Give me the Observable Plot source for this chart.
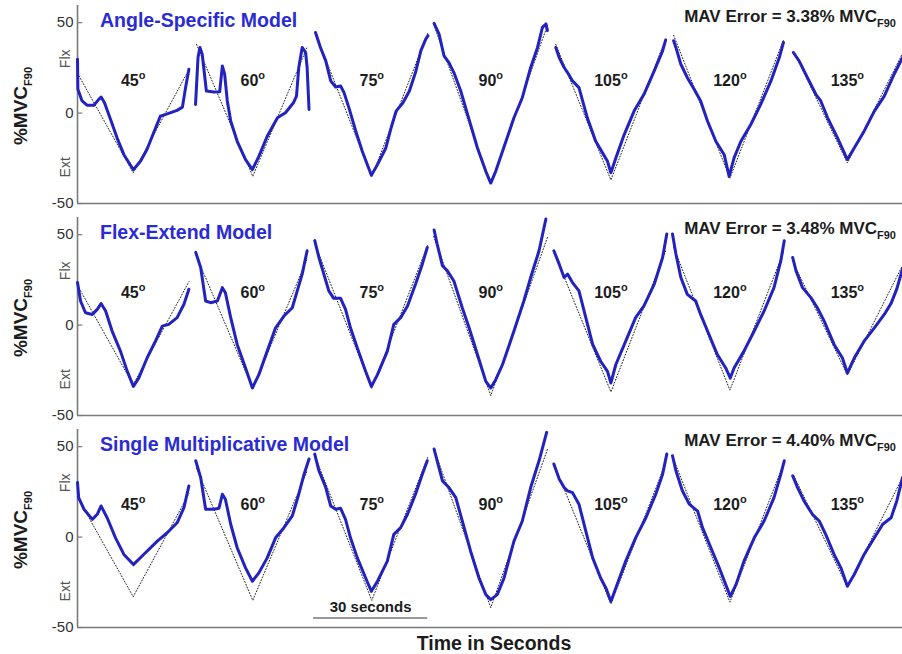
<!DOCTYPE html>
<html>
<head>
<meta charset="utf-8">
<script src="https://cdn.jsdelivr.net/npm/d3@7"></script>
<script src="https://cdn.jsdelivr.net/npm/@observablehq/plot@0.6"></script>
<style>
  html, body { margin: 0; padding: 0; background: #fff; }
  body { font-family: "Liberation Sans", Arial, Helvetica, sans-serif; }
  #chart { position: relative; width: 902px; height: 654px; overflow: hidden; }
  .panel { position: absolute; left: 0; width: 902px; height: 212px; }
  .panel svg { position: absolute; left: 0; top: 0; }
  .title { position: absolute; left: 100px; top: 9px; font-weight: bold; font-size: 19.5px; line-height: 22px; color: #2b2bd4; white-space: nowrap; }
  .mav { position: absolute; right: 6px; top: 6px; font-weight: bold; font-size: 17px; line-height: 22px; color: #1c1c1c; white-space: nowrap; }
  .mav sub, .ylab sub { font-size: 11px; vertical-align: -5px; line-height: 0; }
  .ylab { position: absolute; left: 21px; top: 106px; transform: translate(-50%, -50%) rotate(-90deg); font-weight: bold; font-size: 19px; line-height: 20px; color: #1c1c1c; white-space: nowrap; }
  .xlab { position: absolute; left: 0; top: 632px; width: 902px; padding-left: 86px; box-sizing: border-box; text-align: center; font-weight: bold; font-size: 19.5px; line-height: 22px; color: #1c1c1c; }
</style>
</head>
<body>
<div id="chart"></div>
<script>
// Joint angle of each 30-second tracking trial
const angles = [45, 60, 75, 90, 105, 120, 135];

// Target (dotted) triangle per trial: [time s, %MVC] at start, trough, end
const target = [
  [[0, 22], [14.65, -33], [29.3, 24]],
  [[31.3, 38], [46.1, -35], [60.3, 36]],
  [[62.6, 44], [77.4, -35], [92.1, 44]],
  [[93.7, 49], [108.7, -39], [123.7, 49]],
  [[125.8, 38], [140.3, -37], [154.7, 41]],
  [[156.8, 43], [171.6, -36], [185.8, 41]],
  [[188.4, 34], [202.5, -27.6], [217, 33]]
];

// Estimated torque, Angle-Specific Model
const angleSpecific = [
  [[0,29.8],[0.1,13.2],[1.2,6.7],[2.5,4.4],[4.3,4.3],[5.6,7.6],[6.2,8.9],[7.1,5.7],[8.7,-3.5],[10.4,-13.7],[12.2,-23],[14.7,-31.3],[16.6,-26.5],[18.3,-20],[20,-11],[21.8,-1.7],[23.6,-0.4],[26.2,1.5],[27.6,3.3],[28.4,13.7],[29.3,24.3]],
  [[31.05,4.8],[31.7,30.7],[32.2,36.3],[32.8,32.6],[33.4,21.5],[33.9,12.2],[35.9,11.7],[37.4,11.8],[38.1,26.1],[38.7,21.5],[39.4,6.7],[40.3,-4.4],[42,-15.6],[44.2,-25.7],[46,-31.3],[47.7,-23.9],[49.9,-12.8],[52.6,-2.6],[54.7,0.2],[56.8,5.7],[57.6,9.4],[58.2,25.2],[59.1,36.3],[60,33.5],[60.4,25.2],[60.9,2]],
  [[62.6,44.6],[63.9,36.3],[65.3,28.9],[66.6,17.8],[67.9,14.4],[69.2,15],[70.1,11.3],[71.4,2.9],[73.2,-10],[74.9,-21.1],[77.3,-34.4],[78.9,-28.5],[81.1,-19.3],[82.5,-8.1],[83.8,1.1],[85.6,5.7],[87.3,12.2],[88.9,22.4],[90.3,34.4],[91.6,40.9],[92.2,42.8]],
  [[93.8,49.6],[95.1,43.7],[96.4,31.7],[97.7,27.9],[99,22.4],[100.8,12.2],[102.6,-0.7],[105.2,-19.3],[107.4,-32.2],[108.7,-38.7],[110,-32.2],[111.8,-21.1],[114.8,-2.6],[117,8.5],[119.2,25.2],[121,36.3],[122.3,47.4],[123.2,49.3],[123.6,45.6]],
  [[125.8,36.3],[126.7,30.7],[128,25.2],[128.9,22.4],[130.2,17.8],[131.9,14.1],[134.1,-2.6],[136.3,-15.6],[138.1,-22],[139.4,-26.7],[140.3,-33],[141.6,-24.8],[143.8,-11.9],[146.4,1.1],[149,10.4],[151.7,23.3],[153.9,34.4],[154.7,40.4]],
  [[156.8,40],[157.4,36.3],[158.7,27],[160.4,19.6],[162.2,13.2],[163.9,6.7],[165.7,-4.4],[167.9,-15.6],[170.1,-23],[171.4,-35],[172.7,-24.8],[174.5,-15.6],[177.1,-6.3],[179.7,4.8],[182.4,17.8],[184.6,30.7],[185.7,39.1]],
  [[188.3,33.5],[189.8,28.9],[192,19.6],[194.2,10.4],[195.5,6.7],[197.3,-2.6],[199.9,-13.7],[202.5,-25.7],[204.3,-19.3],[206.9,-10],[209.6,1.1],[212.2,9.4],[214.8,21.5],[217,30.7]]
];

// Estimated torque, Flex-Extend Model
const flexExtend = [
  [[0,23.5],[0.8,13.3],[2.1,6.8],[3.9,5.9],[5.2,8.7],[6.2,11.9],[7.4,7.8],[9.1,-3.3],[11.3,-14.4],[13.1,-25.6],[14.7,-33.9],[16.1,-29.3],[18.3,-18.2],[20.5,-8.9],[22.3,-0.6],[24,0.4],[26.2,4.1],[28,11.5],[29.3,19.8]],
  [[31.1,40.2],[32.4,31.8],[33.7,13.3],[35,12.4],[36.8,13.3],[38.1,20.7],[38.9,17.9],[40.3,4.1],[42,-10.7],[44.2,-23.7],[46,-34.8],[47.7,-27.4],[49.9,-14.4],[52.1,-1.5],[54.3,5],[56.5,9.6],[57.8,18.9],[59.1,28.2],[60.4,41.1]],
  [[62.4,46.7],[63.5,37.4],[64.8,28.2],[66.1,18.9],[67.4,14.8],[69.2,14.8],[70.5,8.7],[71.8,-1.5],[73.6,-12.6],[75.8,-25.6],[77.3,-33.9],[78.9,-27.4],[81.5,-14.4],[83.2,0.4],[85,4.1],[86.8,10.6],[88.9,22.6],[90.7,33.7],[92,42.9]],
  [[93.8,52.6],[94.6,44.8],[96,32.8],[97.3,30],[99,24.4],[101.2,9.6],[103,-1.5],[105.2,-16.3],[107.4,-31.1],[108.7,-34.8],[110,-30.2],[111.8,-21.8],[114.8,-3.3],[117.4,13.3],[119.2,26.3],[121.4,41.1],[123.2,58.7]],
  [[125.3,41.1],[126.7,33.7],[128,26.3],[128.9,28.2],[130.2,23.5],[131.9,18.9],[133.7,4.1],[135.5,-10.7],[137.6,-20],[139.4,-25.6],[140.3,-32],[141.6,-21.8],[144.2,-8.9],[146.8,4.1],[149,10.6],[151.7,22.6],[153.9,37.4],[155,50.4]],
  [[156.5,50.4],[157.4,39.3],[158.7,26.3],[160.4,17],[162.6,13.3],[163.9,5.9],[166.1,-5.2],[168.3,-16.3],[170.5,-23.7],[171.7,-29.3],[172.7,-23.7],[175.3,-14.4],[178,-3.3],[180.6,7.8],[183.2,20.7],[185,35.6],[185.9,46.7]],
  [[188.1,37.4],[189,30],[190.7,20.7],[192.9,15.2],[194.6,9.6],[196.4,2.2],[199,-10.7],[201.2,-18.2],[202.5,-26.5],[204.3,-18.2],[206.9,-8.9],[209.6,-1.5],[212.2,5.9],[214,12],[215.5,20],[217,31]]
];

// Estimated torque, Single Multiplicative Model
const singleMult = [
  [[0,30.2],[0.3,21.8],[1.7,15.4],[3.9,9.8],[5.2,12.6],[6.2,17.2],[7.8,10.7],[10,-0.4],[12.2,-9.6],[14.7,-15.2],[17.4,-9.6],[21,-2.2],[23.6,2.4],[26.2,7.9],[28,16.3],[29.3,28.3]],
  [[31.1,42.2],[32.4,32.9],[33.7,15.4],[35.9,15.4],[37.2,15.9],[38.1,23.7],[38.9,20.9],[40.3,7.1],[42,-5.9],[44.2,-17],[46,-24.4],[47.7,-19.8],[49.9,-11.5],[52.1,-0.4],[54.3,5.2],[56.5,11.7],[58.2,23.7],[59.6,34.8],[60.9,43.2]],
  [[62.4,45.9],[63.5,36.7],[65.3,27.4],[66.6,17.2],[67.9,15.4],[69.2,15.9],[70.5,9.8],[71.8,-0.4],[73.6,-11.5],[75.8,-22.6],[77.3,-30],[78.9,-24.4],[81.5,-13.3],[83.2,1.5],[85,5.2],[86.8,12.6],[88.9,23.7],[90.7,34.8],[92,42.2]],
  [[93.8,48.7],[94.6,42.2],[96,31.1],[97.7,27.4],[99.5,21.8],[101.7,5.2],[103.4,-7.8],[105.6,-22.6],[107.4,-31.8],[108.7,-34.6],[110.4,-31.8],[112.2,-22.6],[114.8,-2.2],[117,8.9],[119.2,27.4],[121.4,42.2],[123.4,57.9]],
  [[125.3,40.4],[126.7,32.1],[128,27.4],[128.9,25.6],[130.2,24.6],[131.9,18.2],[133.7,3.3],[135.5,-11.5],[137.6,-22.6],[139,-28.2],[140.3,-35.6],[141.6,-28.2],[144.2,-13.3],[146.8,-0.4],[149.5,10.7],[152.1,23.7],[153.9,34.8],[155,45.9]],
  [[156.5,45],[157.4,36.7],[159.1,25.6],[160.9,18.2],[163.1,14.4],[164.4,5.2],[166.6,-5.9],[168.8,-17],[170.5,-26.3],[171.7,-32.8],[173.2,-26.3],[175.3,-13.3],[178,-0.4],[180.6,8.9],[183.2,21.8],[185,34.8],[185.9,42.2]],
  [[188.1,33.9],[189.4,27.4],[191.1,20],[193.3,12.6],[195.1,8.9],[196.8,1.5],[199,-9.6],[200.8,-17],[202.5,-27.2],[204.3,-20.7],[206.9,-9.6],[209.6,-0.4],[211.8,7.1],[214,10.7],[215.5,20],[217,32.9]]
];

const panelTitles = ["Angle-Specific Model", "Flex-Extend Model", "Single Multiplicative Model"];
const mavErrors = ["3.38", "3.48", "4.40"];
const yTicks = [-50, 0, 50];
const directionLabels = [{v: 30, label: "Flx"}, {v: -30, label: "Ext"}];
const angleLabelLevel = 18;            // %MVC height of the angle labels
const scaleBar = {t1: 62.1, t2: 92.1, v: -44.8, labelV: -38.7, label: "30 seconds"};

const blue = "#2222bf";
const axisGray = "#7a7a7a";

function toRows(series) {
  const rows = [];
  series.forEach((seg, i) => seg.forEach(([t, v]) => rows.push({angle: angles[i], t, v})));
  return rows;
}
const targetRows = toRows(target);

function drawPanel(series, withScaleBar) {
  const marks = [
    Plot.ruleX([0], {stroke: axisGray, strokeWidth: 1.6}),
    Plot.ruleY([-50], {stroke: axisGray, strokeWidth: 1.6}),
    Plot.ruleY(yTicks, {x1: 0, x2: 1.4, stroke: axisGray, strokeWidth: 1.2}),
    Plot.axisY(yTicks, {tickSize: 0, tickPadding: 4, fontSize: 15, fill: "#333", label: null, tickFormat: d => String(d)}),
    Plot.text(directionLabels, {x: 0, y: "v", text: "label", rotate: -90, dx: -12, fontSize: 14, fill: "#555"}),
    Plot.line(targetRows, {x: "t", y: "v", z: "angle", stroke: "#222", strokeWidth: 1, strokeDasharray: "1,2"}),
    Plot.line(toRows(series), {x: "t", y: "v", z: "angle", stroke: blue, strokeWidth: 3, strokeLinejoin: "round", strokeLinecap: "round"}),
    Plot.text(angles, {
      x: (d, i) => target[i][1][0], y: () => angleLabelLevel, text: d => String(d),
      fontSize: 16, fontWeight: "bold", fill: "#1c1c1c", ariaDescription: "angle labels"
    })
  ];
  if (withScaleBar) {
    marks.push(
      Plot.ruleY([scaleBar], {x1: "t1", x2: "t2", y: "v", stroke: "#9a9a9a", strokeWidth: 2}),
      Plot.text([scaleBar], {x: d => (d.t1 + d.t2) / 2, y: "labelV", text: "label", fontSize: 15, fontWeight: "bold", fill: "#1c1c1c"})
    );
  }
  const svg = Plot.plot({
    width: 902,
    height: 212,
    marginLeft: 77,
    marginRight: 0,
    marginTop: 5,
    marginBottom: 9,
    style: {fontFamily: '"Liberation Sans", Arial, sans-serif', background: "transparent", overflow: "visible"},
    x: {domain: [0, 217], axis: null},
    y: {domain: [-50, 59.5]},
    marks
  });
  // degree marks drawn as a raised small "o" after each angle
  d3.select(svg).selectAll('g[aria-description="angle labels"] text').each(function () {
    d3.select(this).append("tspan").attr("dy", "-7").attr("font-size", "11px").text("o");
  });
  return svg;
}

const chart = document.getElementById("chart");
[angleSpecific, flexExtend, singleMult].forEach((series, k) => {
  const panel = document.createElement("div");
  panel.className = "panel";
  panel.style.top = (k * 212) + "px";
  panel.appendChild(drawPanel(series, k === 2));

  const title = document.createElement("div");
  title.className = "title";
  title.textContent = panelTitles[k];
  panel.appendChild(title);

  const mav = document.createElement("div");
  mav.className = "mav";
  mav.innerHTML = "MAV Error = " + mavErrors[k] + "% MVC<sub>F90</sub>";
  panel.appendChild(mav);

  const ylab = document.createElement("div");
  ylab.className = "ylab";
  ylab.innerHTML = "%MVC<sub>F90</sub>";
  panel.appendChild(ylab);

  chart.appendChild(panel);
});

const xlab = document.createElement("div");
xlab.className = "xlab";
xlab.textContent = "Time in Seconds";
chart.appendChild(xlab);
</script>
</body>
</html>
